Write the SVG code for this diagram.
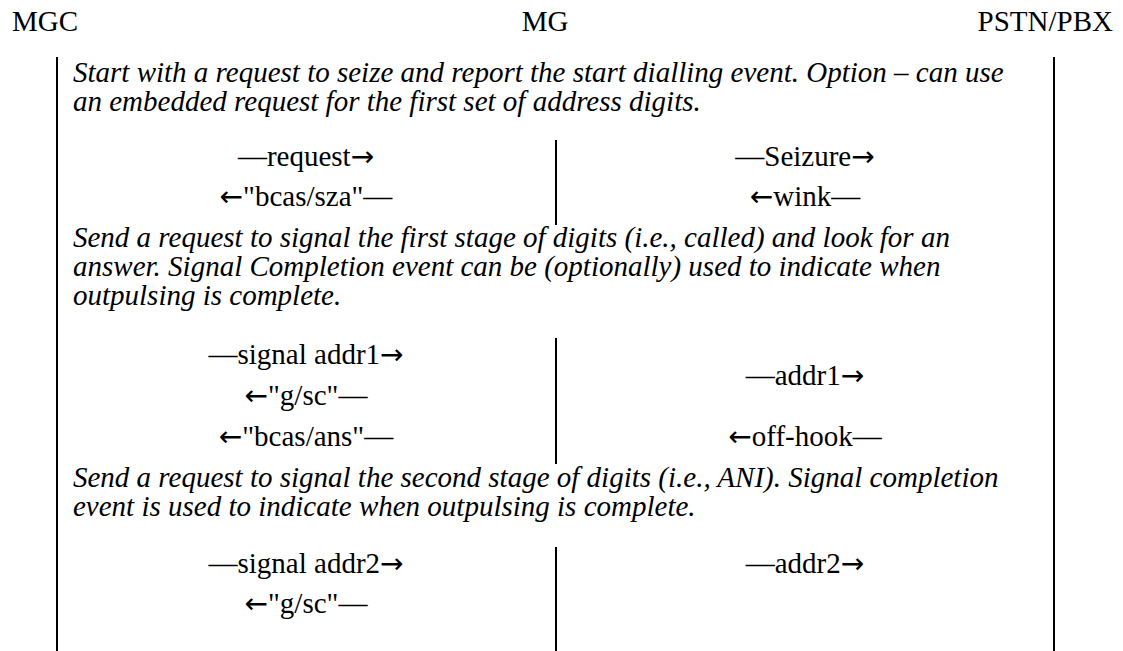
<svg xmlns="http://www.w3.org/2000/svg" width="1123" height="651" viewBox="0 0 1123 651">
<style>
.hd{font-family:"Liberation Serif","Times New Roman",serif;font-size:29px;fill:#000}
.it{font-family:"Liberation Serif","Times New Roman",serif;font-size:29px;font-style:italic;fill:#000}
.lb{font-family:"Liberation Serif","Times New Roman",serif;font-size:29px;fill:#000;text-anchor:middle}
.ar{font-family:"DejaVu Sans",sans-serif;font-size:28px}
.ln{stroke:#000;stroke-width:2;fill:none}
</style>
<rect width="1123" height="651" fill="#fff"/>
<g id="mgc">
<text class="hd" x="12" y="31">MGC</text>
<line class="ln" x1="57" y1="57" x2="57" y2="651"/>
</g>
<g id="mg">
<text class="hd" x="545" y="31" text-anchor="middle">MG</text>
<line class="ln" x1="556" y1="140" x2="556" y2="225"/>
<line class="ln" x1="556" y1="338" x2="556" y2="464"/>
<line class="ln" x1="556" y1="547" x2="556" y2="651"/>
</g>
<g id="pstn">
<text class="hd" x="1113" y="31" text-anchor="end">PSTN/PBX</text>
<line class="ln" x1="1054" y1="57" x2="1054" y2="651"/>
</g>
<g id="notes">
<text class="it" x="73" y="82">Start with a request to seize and report the start dialling event. Option – can use</text>
<text class="it" x="73" y="111">an embedded request for the first set of address digits.</text>
<text class="it" x="73" y="247">Send a request to signal the first stage of digits (i.e., called) and look for an</text>
<text class="it" x="73" y="276">answer. Signal Completion event can be (optionally) used to indicate when</text>
<text class="it" x="73" y="305">outpulsing is complete.</text>
<text class="it" x="73" y="487">Send a request to signal the second stage of digits (i.e., ANI). Signal completion</text>
<text class="it" x="73" y="516">event is used to indicate when outpulsing is complete.</text>
</g>
<g id="connectors">
<text class="lb" x="306" y="166">—request<tspan class="ar">→</tspan></text>
<text class="lb" x="306" y="206"><tspan class="ar">←</tspan>"bcas/sza"—</text>
<text class="lb" x="805" y="166">—Seizure<tspan class="ar">→</tspan></text>
<text class="lb" x="805" y="206"><tspan class="ar">←</tspan>wink—</text>
<text class="lb" x="306" y="364">—signal addr1<tspan class="ar">→</tspan></text>
<text class="lb" x="306" y="405"><tspan class="ar">←</tspan>"g/sc"—</text>
<text class="lb" x="306" y="446"><tspan class="ar">←</tspan>"bcas/ans"—</text>
<text class="lb" x="805" y="385">—addr1<tspan class="ar">→</tspan></text>
<text class="lb" x="805" y="446"><tspan class="ar">←</tspan>off-hook—</text>
<text class="lb" x="306" y="573">—signal addr2<tspan class="ar">→</tspan></text>
<text class="lb" x="306" y="613"><tspan class="ar">←</tspan>"g/sc"—</text>
<text class="lb" x="805" y="573">—addr2<tspan class="ar">→</tspan></text>
</g>
</svg>
